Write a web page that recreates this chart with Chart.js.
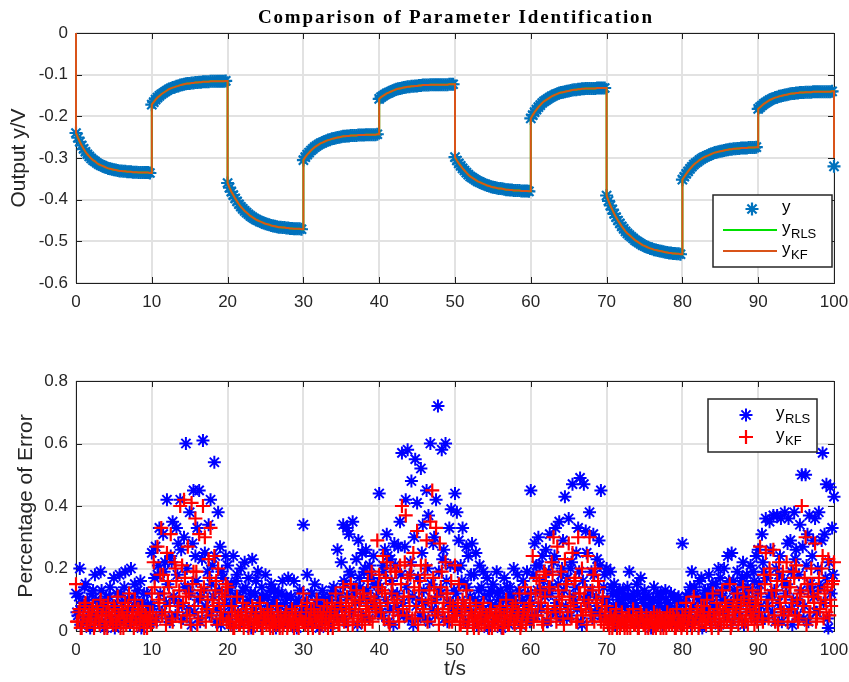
<!DOCTYPE html>
<html>
<head>
<meta charset="utf-8">
<script src="https://cdn.jsdelivr.net/npm/chart.js@4.4.1/dist/chart.umd.min.js"></script>
<style>
  html, body { margin: 0; padding: 0; background: #fff; }
  #wrap { position: relative; width: 849px; height: 682px; }
  canvas { position: absolute; left: 0; display: block; }
  #outChart { top: 0; }
  #errChart { top: 330px; }
</style>
</head>
<body>
<div id="wrap">
  <canvas id="outChart" width="849" height="330"></canvas>
  <canvas id="errChart" width="849" height="352"></canvas>
</div>
<script>
const chartTitle = 'Comparison of Parameter Identification';
const timeTicks = [0, 10, 20, 30, 40, 50, 60, 70, 80, 90, 100];
const outTicks = [-0.6, -0.5, -0.4, -0.3, -0.2, -0.1, 0];
const errTicks = [0, 0.2, 0.4, 0.6, 0.8];

// output samples, one every 0.25 s from t = 0 to t = 100
const outStep = 0.25;
const yOut = [
  -0.240,-0.251,-0.261,-0.270,-0.278,-0.285,-0.291,-0.296,-0.301,-0.305,-0.308,-0.312,-0.315,-0.317,-0.319,-0.321,-0.323,-0.325,-0.326,-0.327,
  -0.328,-0.329,-0.330,-0.331,-0.331,-0.332,-0.332,-0.333,-0.333,-0.333,-0.334,-0.334,-0.334,-0.335,-0.335,-0.335,-0.335,-0.335,-0.335,-0.336,
  -0.172,-0.166,-0.160,-0.155,-0.151,-0.147,-0.144,-0.141,-0.138,-0.135,-0.133,-0.131,-0.130,-0.128,-0.127,-0.125,-0.124,-0.123,-0.122,-0.121,
  -0.121,-0.120,-0.120,-0.119,-0.119,-0.118,-0.118,-0.117,-0.117,-0.117,-0.117,-0.116,-0.116,-0.116,-0.116,-0.116,-0.116,-0.116,-0.116,-0.115,
  -0.360,-0.371,-0.381,-0.389,-0.397,-0.404,-0.411,-0.417,-0.422,-0.427,-0.431,-0.435,-0.439,-0.442,-0.445,-0.448,-0.450,-0.452,-0.454,-0.456,
  -0.458,-0.459,-0.460,-0.462,-0.463,-0.464,-0.465,-0.466,-0.466,-0.467,-0.467,-0.468,-0.468,-0.469,-0.469,-0.470,-0.470,-0.470,-0.470,-0.471,
  -0.305,-0.298,-0.292,-0.287,-0.282,-0.278,-0.274,-0.271,-0.268,-0.265,-0.263,-0.261,-0.259,-0.257,-0.256,-0.254,-0.253,-0.252,-0.251,-0.250,
  -0.249,-0.248,-0.248,-0.247,-0.247,-0.246,-0.246,-0.246,-0.246,-0.245,-0.245,-0.245,-0.245,-0.244,-0.244,-0.244,-0.244,-0.244,-0.244,-0.243,
  -0.158,-0.154,-0.151,-0.148,-0.145,-0.143,-0.141,-0.139,-0.137,-0.135,-0.134,-0.133,-0.132,-0.131,-0.130,-0.129,-0.129,-0.128,-0.128,-0.127,
  -0.127,-0.126,-0.126,-0.125,-0.125,-0.125,-0.125,-0.124,-0.124,-0.124,-0.124,-0.124,-0.124,-0.124,-0.124,-0.124,-0.124,-0.123,-0.123,-0.123,
  -0.298,-0.306,-0.313,-0.319,-0.325,-0.330,-0.335,-0.340,-0.344,-0.347,-0.350,-0.353,-0.356,-0.358,-0.360,-0.362,-0.364,-0.366,-0.367,-0.369,
  -0.370,-0.371,-0.372,-0.373,-0.373,-0.374,-0.375,-0.376,-0.376,-0.377,-0.377,-0.378,-0.378,-0.378,-0.378,-0.379,-0.379,-0.379,-0.379,-0.380,
  -0.205,-0.197,-0.190,-0.184,-0.178,-0.173,-0.168,-0.164,-0.161,-0.158,-0.155,-0.152,-0.150,-0.148,-0.146,-0.144,-0.143,-0.142,-0.141,-0.140,
  -0.139,-0.138,-0.137,-0.136,-0.136,-0.135,-0.135,-0.134,-0.134,-0.133,-0.133,-0.133,-0.133,-0.133,-0.133,-0.132,-0.132,-0.132,-0.132,-0.132,
  -0.390,-0.403,-0.414,-0.424,-0.434,-0.442,-0.450,-0.457,-0.464,-0.470,-0.476,-0.481,-0.485,-0.489,-0.493,-0.497,-0.500,-0.503,-0.506,-0.509,
  -0.511,-0.513,-0.515,-0.517,-0.518,-0.520,-0.521,-0.522,-0.523,-0.524,-0.525,-0.526,-0.527,-0.528,-0.528,-0.529,-0.529,-0.530,-0.530,-0.531,
  -0.352,-0.345,-0.338,-0.332,-0.326,-0.321,-0.316,-0.312,-0.309,-0.305,-0.302,-0.299,-0.297,-0.295,-0.293,-0.291,-0.289,-0.287,-0.286,-0.285,
  -0.284,-0.283,-0.282,-0.281,-0.280,-0.279,-0.279,-0.278,-0.278,-0.277,-0.277,-0.276,-0.276,-0.276,-0.276,-0.275,-0.275,-0.275,-0.275,-0.274,
  -0.182,-0.178,-0.174,-0.170,-0.167,-0.164,-0.161,-0.159,-0.157,-0.155,-0.154,-0.152,-0.151,-0.150,-0.149,-0.148,-0.147,-0.146,-0.145,-0.145,
  -0.144,-0.144,-0.143,-0.143,-0.143,-0.142,-0.142,-0.142,-0.142,-0.141,-0.141,-0.141,-0.141,-0.141,-0.141,-0.141,-0.141,-0.141,-0.141,-0.140,
  -0.320
];
// estimator output starts from zero and ends a bit above the last sample
const yEstStart = 0;
const yEstEnd = -0.30;

// percentage of error: main samples at t = 0, 0.25, ... 100
const errStep = 0.25;
const errRLS = [
  0.12,0.05,0.20,0.08,0.03,0.15,0.10,0.02,0.06,0.13, 0.18,0.04,0.09,0.19,0.07,0.01,0.11,0.05,0.14,0.03,
  0.17,0.08,0.02,0.18,0.12,0.06,0.19,0.04,0.10,0.20, 0.07,0.15,0.03,0.09,0.16,0.02,0.12,0.06,0.08,0.04,
  0.25,0.03,0.27,0.18,0.33,0.06,0.31,0.22,0.42,0.04, 0.24,0.35,0.10,0.33,0.28,0.42,0.08,0.30,0.60,0.14,
  0.38,0.02,0.45,0.24,0.33,0.45,0.11,0.61,0.25,0.07, 0.34,0.42,0.21,0.54,0.03,0.38,0.27,0.19,0.05,0.24,
  0.21,0.08,0.15,0.24,0.11,0.18,0.05,0.20,0.13,0.22, 0.09,0.17,0.12,0.23,0.06,0.16,0.19,0.10,0.14,0.04,
  0.18,0.11,0.07,0.15,0.09,0.13,0.03,0.12,0.08,0.16, 0.05,0.11,0.17,0.07,0.02,0.16,0.09,0.04,0.13,0.06,
  0.34,0.08,0.18,0.05,0.12,0.03,0.15,0.07,0.10,0.02, 0.13,0.06,0.09,0.04,0.11,0.07,0.14,0.05,0.26,0.10,
  0.22,0.34,0.15,0.33,0.31,0.18,0.35,0.12,0.23,0.29, 0.14,0.25,0.19,0.26,0.10,0.21,0.17,0.24,0.08,0.15,
  0.44,0.06,0.21,0.26,0.31,0.03,0.23,0.12,0.28,0.08, 0.27,0.35,0.57,0.05,0.42,0.58,0.18,0.48,0.02,0.55,
  0.41,0.10,0.52,0.34,0.04,0.45,0.37,0.60,0.07,0.30, 0.42,0.72,0.13,0.58,0.26,0.60,0.03,0.33,0.39,0.09,
  0.44,0.38,0.29,0.21,0.33,0.15,0.27,0.24,0.11,0.28, 0.18,0.25,0.09,0.21,0.14,0.19,0.06,0.17,0.12,0.08,
  0.15,0.04,0.19,0.10,0.13,0.07,0.17,0.03,0.11,0.14, 0.06,0.20,0.09,0.18,0.12,0.05,0.16,0.08,0.19,0.11,
  0.45,0.05,0.28,0.21,0.30,0.08,0.24,0.13,0.26,0.03, 0.31,0.14,0.22,0.33,0.06,0.35,0.18,0.29,0.43,0.04,
  0.36,0.20,0.47,0.09,0.25,0.33,0.49,0.02,0.47,0.32, 0.11,0.38,0.19,0.31,0.06,0.23,0.29,0.45,0.10,0.18,
  0.20,0.07,0.19,0.12,0.15,0.05,0.10,0.13,0.03,0.11, 0.08,0.14,0.19,0.06,0.12,0.09,0.15,0.04,0.17,0.10,
  0.13,0.07,0.11,0.02,0.09,0.14,0.06,0.12,0.08,0.11, 0.04,0.13,0.09,0.06,0.12,0.03,0.10,0.07,0.11,0.05,
  0.28,0.06,0.11,0.03,0.14,0.19,0.08,0.12,0.05,0.16, 0.17,0.09,0.13,0.06,0.18,0.11,0.15,0.07,0.12,0.20,
  0.17,0.10,0.20,0.14,0.24,0.08,0.25,0.16,0.12,0.19, 0.09,0.15,0.22,0.11,0.18,0.13,0.21,0.07,0.16,0.24,
  0.26,0.05,0.31,0.19,0.36,0.08,0.35,0.12,0.37,0.03, 0.37,0.18,0.36,0.06,0.38,0.15,0.36,0.29,0.02,0.38,
  0.26,0.09,0.34,0.50,0.04,0.50,0.31,0.37,0.13,0.29, 0.36,0.06,0.38,0.14,0.57,0.31,0.47,0.01,0.46,0.33,
  0.43
];
const errKF = [
  0.15,0.03,0.07,0.01,0.05,0.09,0.02,0.06,0.04,0.08, 0.02,0.07,0.03,0.10,0.05,0.01,0.06,0.09,0.03,0.05,
  0.08,0.02,0.11,0.04,0.07,0.01,0.09,0.05,0.12,0.03, 0.06,0.10,0.02,0.07,0.04,0.08,0.01,0.05,0.03,0.06,
  0.12,0.22,0.04,0.27,0.09,0.33,0.18,0.06,0.25,0.14, 0.31,0.03,0.22,0.16,0.08,0.40,0.21,0.42,0.11,0.27,
  0.05,0.41,0.19,0.36,0.02,0.31,0.13,0.40,0.30,0.07, 0.23,0.33,0.10,0.24,0.16,0.20,0.04,0.12,0.08,0.15,
  0.14,0.03,0.08,0.01,0.06,0.11,0.02,0.05,0.09,0.03, 0.07,0.01,0.04,0.08,0.02,0.06,0.03,0.09,0.01,0.05,
  0.04,0.07,0.02,0.06,0.01,0.03,0.08,0.02,0.05,0.01, 0.04,0.06,0.02,0.03,0.07,0.01,0.05,0.02,0.04,0.08,
  0.12,0.02,0.09,0.04,0.07,0.01,0.05,0.10,0.03,0.06, 0.02,0.08,0.04,0.01,0.06,0.09,0.03,0.12,0.05,0.02,
  0.08,0.14,0.04,0.11,0.07,0.15,0.02,0.09,0.13,0.05, 0.10,0.03,0.12,0.07,0.16,0.04,0.19,0.09,0.06,0.29,
  0.18,0.06,0.24,0.12,0.22,0.03,0.20,0.15,0.09,0.19, 0.05,0.21,0.40,0.11,0.37,0.17,0.08,0.21,0.25,0.04,
  0.32,0.13,0.21,0.07,0.18,0.29,0.10,0.35,0.45,0.14, 0.33,0.06,0.28,0.19,0.09,0.22,0.12,0.03,0.16,0.08,
  0.21,0.05,0.15,0.02,0.10,0.07,0.13,0.03,0.09,0.05, 0.01,0.08,0.04,0.06,0.02,0.09,0.03,0.05,0.01,0.07,
  0.04,0.02,0.06,0.03,0.08,0.01,0.05,0.10,0.02,0.04, 0.07,0.03,0.09,0.05,0.12,0.02,0.06,0.14,0.04,0.08,
  0.12,0.24,0.05,0.17,0.09,0.13,0.03,0.19,0.18,0.07, 0.14,0.22,0.30,0.06,0.27,0.11,0.19,0.04,0.23,0.15,
  0.28,0.08,0.25,0.16,0.03,0.30,0.12,0.20,0.10,0.07, 0.24,0.30,0.05,0.18,0.20,0.09,0.14,0.03,0.11,0.06,
  0.08,0.02,0.05,0.01,0.04,0.07,0.03,0.01,0.06,0.02, 0.04,0.01,0.05,0.03,0.07,0.02,0.04,0.01,0.06,0.03,
  0.02,0.05,0.01,0.04,0.03,0.06,0.01,0.02,0.05,0.03, 0.01,0.04,0.06,0.02,0.03,0.05,0.01,0.07,0.04,0.02,
  0.05,0.02,0.09,0.03,0.06,0.01,0.11,0.04,0.07,0.02, 0.08,0.05,0.03,0.10,0.06,0.02,0.12,0.04,0.09,0.01,
  0.07,0.13,0.03,0.08,0.05,0.15,0.02,0.10,0.06,0.12, 0.04,0.09,0.14,0.03,0.07,0.11,0.05,0.13,0.02,0.08,
  0.10,0.27,0.04,0.18,0.25,0.08,0.20,0.13,0.26,0.03, 0.16,0.22,0.07,0.19,0.11,0.22,0.05,0.14,0.09,0.17,
  0.21,0.03,0.12,0.40,0.08,0.30,0.15,0.06,0.20,0.11, 0.28,0.04,0.17,0.09,0.24,0.13,0.06,0.23,0.10,0.15,
  0.22
];
// in-between samples at t = 0.125, 0.375, ... 99.875
const errMidOffset = 0.125;
const errRLSMid = [
  0.06,0.11,0.02,0.09,0.14,0.04,0.08,0.01,0.12,0.05, 0.10,0.03,0.07,0.13,0.02,0.09,0.06,0.11,0.04,0.08,
  0.01,0.12,0.06,0.03,0.09,0.14,0.05,0.10,0.02,0.07, 0.11,0.04,0.13,0.06,0.01,0.09,0.05,0.12,0.03,0.08,
  0.08,0.17,0.04,0.21,0.12,0.06,0.19,0.09,0.15,0.03, 0.22,0.11,0.05,0.18,0.09,0.26,0.04,0.14,0.20,0.07,
  0.12,0.28,0.06,0.16,0.10,0.03,0.23,0.13,0.08,0.19, 0.05,0.15,0.11,0.24,0.07,0.13,0.02,0.17,0.09,0.12,
  0.05,0.13,0.02,0.09,0.16,0.06,0.11,0.03,0.08,0.14, 0.04,0.10,0.01,0.07,0.12,0.05,0.09,0.02,0.11,0.06,
  0.03,0.08,0.13,0.04,0.10,0.01,0.07,0.05,0.12,0.02, 0.09,0.04,0.06,0.11,0.03,0.08,0.01,0.10,0.05,0.07,
  0.04,0.10,0.02,0.07,0.12,0.03,0.09,0.05,0.01,0.08, 0.11,0.03,0.06,0.10,0.02,0.13,0.05,0.08,0.04,0.12,
  0.07,0.16,0.03,0.11,0.19,0.06,0.14,0.09,0.02,0.17, 0.10,0.05,0.20,0.13,0.04,0.18,0.08,0.15,0.11,0.06,
  0.14,0.05,0.19,0.10,0.24,0.07,0.16,0.02,0.21,0.12, 0.06,0.18,0.09,0.27,0.14,0.04,0.22,0.11,0.30,0.08,
  0.17,0.05,0.25,0.13,0.09,0.20,0.03,0.15,0.28,0.10, 0.06,0.19,0.12,0.23,0.04,0.16,0.09,0.21,0.07,0.13,
  0.12,0.20,0.06,0.16,0.09,0.03,0.14,0.07,0.18,0.05, 0.10,0.02,0.13,0.08,0.04,0.11,0.06,0.01,0.09,0.13,
  0.03,0.08,0.12,0.05,0.01,0.10,0.06,0.14,0.02,0.09, 0.11,0.04,0.07,0.13,0.02,0.10,0.05,0.08,0.12,0.03,
  0.09,0.18,0.05,0.13,0.21,0.07,0.16,0.11,0.03,0.19, 0.12,0.06,0.24,0.09,0.15,0.04,0.20,0.13,0.08,0.17,
  0.05,0.22,0.11,0.14,0.07,0.19,0.03,0.16,0.10,0.25, 0.08,0.13,0.04,0.18,0.11,0.07,0.21,0.05,0.14,0.09,
  0.10,0.04,0.14,0.08,0.02,0.12,0.06,0.09,0.13,0.03, 0.07,0.11,0.05,0.10,0.02,0.08,0.12,0.06,0.03,0.09,
  0.11,0.05,0.08,0.01,0.10,0.06,0.04,0.09,0.12,0.02, 0.07,0.10,0.03,0.08,0.05,0.11,0.02,0.06,0.09,0.04,
  0.03,0.09,0.05,0.12,0.02,0.08,0.14,0.04,0.10,0.06, 0.01,0.11,0.07,0.13,0.03,0.09,0.05,0.15,0.08,0.02,
  0.12,0.06,0.10,0.04,0.16,0.09,0.03,0.13,0.07,0.11, 0.05,0.17,0.02,0.10,0.14,0.06,0.09,0.19,0.04,0.12,
  0.15,0.08,0.22,0.04,0.17,0.11,0.26,0.06,0.13,0.20, 0.09,0.24,0.03,0.16,0.12,0.28,0.07,0.19,0.10,0.23,
  0.05,0.18,0.13,0.27,0.08,0.21,0.03,0.15,0.24,0.11, 0.06,0.20,0.14,0.29,0.09,0.17,0.04,0.22,0.12,0.18
];
const errKFMid = [
  0.03,0.06,0.01,0.04,0.08,0.02,0.05,0.03,0.07,0.01, 0.04,0.06,0.02,0.05,0.08,0.03,0.01,0.06,0.04,0.02,
  0.07,0.03,0.05,0.01,0.06,0.04,0.02,0.08,0.03,0.05, 0.01,0.04,0.07,0.02,0.06,0.03,0.05,0.01,0.04,0.02,
  0.06,0.14,0.03,0.10,0.18,0.05,0.12,0.02,0.16,0.08, 0.04,0.11,0.20,0.06,0.13,0.03,0.09,0.17,0.05,0.12,
  0.02,0.15,0.08,0.19,0.04,0.11,0.06,0.14,0.03,0.10, 0.17,0.05,0.08,0.13,0.02,0.09,0.06,0.04,0.11,0.03,
  0.04,0.02,0.06,0.01,0.03,0.05,0.02,0.04,0.01,0.06, 0.03,0.02,0.05,0.01,0.04,0.02,0.03,0.06,0.01,0.04,
  0.02,0.05,0.01,0.03,0.04,0.02,0.06,0.01,0.03,0.02, 0.05,0.01,0.04,0.02,0.03,0.06,0.02,0.01,0.04,0.03,
  0.03,0.06,0.01,0.04,0.02,0.07,0.03,0.05,0.01,0.04, 0.06,0.02,0.08,0.03,0.05,0.01,0.07,0.04,0.02,0.09,
  0.05,0.03,0.08,0.02,0.06,0.10,0.04,0.07,0.03,0.09, 0.05,0.12,0.02,0.08,0.06,0.11,0.03,0.10,0.07,0.14,
  0.08,0.13,0.04,0.17,0.09,0.02,0.12,0.06,0.19,0.10, 0.03,0.15,0.07,0.22,0.05,0.11,0.18,0.04,0.14,0.08,
  0.02,0.16,0.10,0.06,0.21,0.03,0.13,0.09,0.17,0.05, 0.11,0.02,0.14,0.07,0.04,0.12,0.06,0.09,0.03,0.05,
  0.05,0.09,0.02,0.06,0.03,0.08,0.01,0.04,0.06,0.02, 0.05,0.03,0.01,0.04,0.07,0.02,0.05,0.03,0.06,0.01,
  0.03,0.05,0.02,0.07,0.04,0.01,0.03,0.06,0.02,0.05, 0.08,0.02,0.04,0.06,0.01,0.03,0.07,0.02,0.05,0.09,
  0.07,0.03,0.12,0.05,0.16,0.09,0.02,0.11,0.06,0.14, 0.04,0.18,0.08,0.03,0.13,0.07,0.10,0.02,0.15,0.06,
  0.11,0.04,0.09,0.17,0.03,0.12,0.07,0.05,0.14,0.02, 0.09,0.06,0.13,0.03,0.10,0.16,0.05,0.08,0.02,0.04,
  0.03,0.01,0.04,0.02,0.05,0.01,0.03,0.02,0.04,0.01, 0.02,0.05,0.01,0.03,0.02,0.04,0.01,0.03,0.05,0.02,
  0.01,0.03,0.02,0.04,0.01,0.02,0.05,0.03,0.01,0.04, 0.02,0.01,0.03,0.05,0.02,0.04,0.01,0.02,0.03,0.01,
  0.02,0.05,0.01,0.04,0.07,0.03,0.02,0.06,0.01,0.05, 0.03,0.08,0.02,0.04,0.06,0.01,0.05,0.03,0.07,0.04,
  0.02,0.06,0.09,0.03,0.05,0.01,0.07,0.04,0.08,0.02, 0.06,0.03,0.10,0.05,0.02,0.08,0.04,0.06,0.09,0.03,
  0.06,0.12,0.03,0.15,0.08,0.04,0.18,0.10,0.05,0.13, 0.02,0.09,0.16,0.06,0.11,0.03,0.14,0.07,0.19,0.05,
  0.10,0.04,0.13,0.08,0.17,0.02,0.11,0.06,0.15,0.09, 0.03,0.12,0.07,0.20,0.04,0.10,0.14,0.05,0.08,0.16
];

Chart.defaults.font.family = '"Liberation Sans", Arial, Helvetica, sans-serif';
Chart.defaults.color = '#262626';

const tickFont = { size: 17 };
const axisTitleFont = { size: 21 };
const gridStyle = { color: '#e2e2e2', lineWidth: 2, drawTicks: false };

// measured points and the estimator line (vertical jumps at each step)
const outPoints = yOut.map((v, i) => ({ x: i * outStep, y: v }));
const estLine = [{ x: 0, y: yEstStart }];
yOut.forEach((v, i) => {
  const t = i * outStep;
  if (i > 0 && t % 10 === 0) estLine.push({ x: t, y: yOut[i - 1] });
  estLine.push({ x: t, y: i === yOut.length - 1 ? yEstEnd : v });
});
const rlsPoints = errRLS.map((v, i) => ({ x: i * errStep, y: v }))
  .concat(errRLSMid.map((v, i) => ({ x: errMidOffset + i * errStep, y: v })));
const kfPoints = errKF.map((v, i) => ({ x: i * errStep, y: v }))
  .concat(errKFMid.map((v, i) => ({ x: errMidOffset + i * errStep, y: v })));

// box around the axes with inward ticks, like the original figure
const axesFrame = {
  id: 'axesFrame',
  beforeDatasetsDraw(chart) {
    const { ctx, chartArea: a, scales: { x, y } } = chart;
    const len = 6;
    ctx.save();
    ctx.strokeStyle = '#1f1f1f';
    ctx.lineWidth = 1;
    ctx.beginPath();
    x.ticks.forEach(t => {
      const px = Math.round(x.getPixelForValue(t.value)) + 0.5;
      ctx.moveTo(px, a.bottom); ctx.lineTo(px, a.bottom - len);
      ctx.moveTo(px, a.top); ctx.lineTo(px, a.top + len);
    });
    y.ticks.forEach(t => {
      const py = Math.round(y.getPixelForValue(t.value)) + 0.5;
      ctx.moveTo(a.left, py); ctx.lineTo(a.left + len, py);
      ctx.moveTo(a.right, py); ctx.lineTo(a.right - len, py);
    });
    ctx.stroke();
    ctx.strokeRect(Math.round(a.left) + 0.5, Math.round(a.top) + 0.5,
      Math.round(a.right - a.left), Math.round(a.bottom - a.top));
    ctx.restore();
  }
};

// legend box inside the plot, with subscripts
const boxLegend = {
  id: 'boxLegend',
  afterDraw(chart, args, opts) {
    const { ctx, chartArea: a } = chart;
    const left = a.right - opts.right - opts.width;
    const top = a.top + opts.top;
    ctx.save();
    ctx.fillStyle = '#fff';
    ctx.fillRect(left, top, opts.width, opts.height);
    ctx.strokeStyle = '#262626';
    ctx.lineWidth = 1.5;
    ctx.strokeRect(left, top, opts.width, opts.height);
    opts.items.forEach((item, i) => {
      const ds = chart.data.datasets[item.dataset];
      const cy = top + opts.firstRow + i * opts.rowGap;
      if (ds.showLine) {
        ctx.strokeStyle = ds.borderColor;
        ctx.lineWidth = ds.borderWidth;
        ctx.beginPath();
        ctx.moveTo(left + opts.lineFrom, cy);
        ctx.lineTo(left + opts.lineTo, cy);
        ctx.stroke();
      } else {
        ctx.strokeStyle = ds.pointBorderColor;
        ctx.lineWidth = ds.pointBorderWidth;
        Chart.helpers.drawPoint(ctx, {
          pointStyle: ds.pointStyle, radius: ds.pointRadius,
          rotation: 0, borderWidth: ds.pointBorderWidth
        }, left + opts.markerX, cy);
      }
      ctx.fillStyle = '#000';
      ctx.textAlign = 'left';
      ctx.textBaseline = 'alphabetic';
      ctx.font = '17px "Liberation Sans", Arial, sans-serif';
      const tx = left + opts.textX;
      ctx.fillText(item.text, tx, cy + 3);
      if (item.sub) {
        const w = ctx.measureText(item.text).width;
        ctx.font = '13px "Liberation Sans", Arial, sans-serif';
        ctx.fillText(item.sub, tx + w + 0.5, cy + 8);
      }
    });
    ctx.restore();
  }
};

const figureTitle = {
  id: 'figureTitle',
  afterDraw(chart) {
    const { ctx, chartArea: a } = chart;
    ctx.save();
    ctx.font = 'bold 19px "Liberation Serif", "Times New Roman", serif';
    ctx.fillStyle = '#000';
    ctx.textAlign = 'left';
    ctx.textBaseline = 'alphabetic';
    const w = ctx.measureText(chartTitle).width;
    const target = 394;
    let spacing = 0;
    if ('letterSpacing' in ctx) {
      spacing = Math.max(0, (target - w) / (chartTitle.length - 1));
      ctx.letterSpacing = spacing + 'px';
    }
    const full = w + spacing * (chartTitle.length - 1);
    ctx.fillText(chartTitle, (a.left + a.right) / 2 - full / 2, 23);
    ctx.restore();
  }
};

function timeAxis(height, title) {
  return {
    type: 'linear', min: 0, max: 100,
    afterBuildTicks: s => { s.ticks = timeTicks.map(v => ({ value: v })); },
    ticks: { font: tickFont, color: '#262626', padding: 9, maxRotation: 0, autoSkip: false, callback: v => String(v) },
    grid: gridStyle,
    border: { display: false },
    title: title ? { display: true, text: title, font: axisTitleFont, color: '#262626', padding: { top: 0, bottom: 0 } } : { display: false },
    afterFit: s => { s.height = height; s.paddingLeft = 0; s.paddingRight = 0; }
  };
}

function valueAxis(min, max, tickList, title, titlePad) {
  return {
    type: 'linear', min: min, max: max,
    afterBuildTicks: s => { s.ticks = tickList.map(v => ({ value: v })); },
    ticks: { font: tickFont, color: '#262626', padding: 8, autoSkip: false, callback: v => String(v) },
    grid: gridStyle,
    border: { display: false },
    title: { display: true, text: title, font: axisTitleFont, color: '#262626', padding: { top: titlePad, bottom: 0 } },
    afterFit: s => { s.width = 76; s.paddingTop = 0; s.paddingBottom = 0; }
  };
}

new Chart(document.getElementById('outChart'), {
  type: 'scatter',
  data: {
    datasets: [
      { label: 'y', data: outPoints, showLine: false, pointStyle: 'star', pointRadius: 6.5,
        pointBorderWidth: 2.2, pointBorderColor: '#0072BD', pointBackgroundColor: '#0072BD', order: 2, clip: false },
      { label: 'y_RLS', data: estLine, showLine: true, pointRadius: 0, borderColor: '#00E000',
        borderWidth: 2, tension: 0, order: 1, clip: false },
      { label: 'y_KF', data: estLine, showLine: true, pointRadius: 0, borderColor: '#D95319',
        borderWidth: 2, tension: 0, order: 0, clip: false }
    ]
  },
  options: {
    responsive: false,
    animation: false,
    events: [],
    layout: { padding: { top: 33, right: 15, bottom: 7, left: 0 } },
    scales: {
      x: timeAxis(40, null),
      y: valueAxis(-0.6, 0, outTicks, 'Output y/V', 7)
    },
    plugins: {
      legend: { display: false },
      tooltip: { enabled: false },
      boxLegend: {
        right: 2, top: 162, width: 119, height: 72,
        firstRow: 14, rowGap: 21, markerX: 39, lineFrom: 10, lineTo: 64, textX: 69,
        items: [
          { dataset: 0, text: 'y' },
          { dataset: 1, text: 'y', sub: 'RLS' },
          { dataset: 2, text: 'y', sub: 'KF' }
        ]
      }
    }
  },
  plugins: [axesFrame, boxLegend, figureTitle]
});

new Chart(document.getElementById('errChart'), {
  type: 'scatter',
  data: {
    datasets: [
      { label: 'y_RLS', data: rlsPoints, showLine: false, pointStyle: 'star', pointRadius: 6.5,
        pointBorderWidth: 2, pointBorderColor: '#0000FF', pointBackgroundColor: '#0000FF', order: 1, clip: false },
      { label: 'y_KF', data: kfPoints, showLine: false, pointStyle: 'cross', pointRadius: 7,
        pointBorderWidth: 2.2, pointBorderColor: '#FF0000', pointBackgroundColor: '#FF0000', order: 0, clip: false }
    ]
  },
  options: {
    responsive: false,
    animation: false,
    events: [],
    layout: { padding: { top: 51, right: 15, bottom: 0, left: 0 } },
    scales: {
      x: timeAxis(51, 't/s'),
      y: valueAxis(0, 0.8, errTicks, 'Percentage of Error', 14)
    },
    plugins: {
      legend: { display: false },
      tooltip: { enabled: false },
      boxLegend: {
        right: 17, top: 18, width: 109, height: 53,
        firstRow: 16, rowGap: 22, markerX: 38, lineFrom: 10, lineTo: 64, textX: 68,
        items: [
          { dataset: 0, text: 'y', sub: 'RLS' },
          { dataset: 1, text: 'y', sub: 'KF' }
        ]
      }
    }
  },
  plugins: [axesFrame, boxLegend]
});
</script>
</body>
</html>
